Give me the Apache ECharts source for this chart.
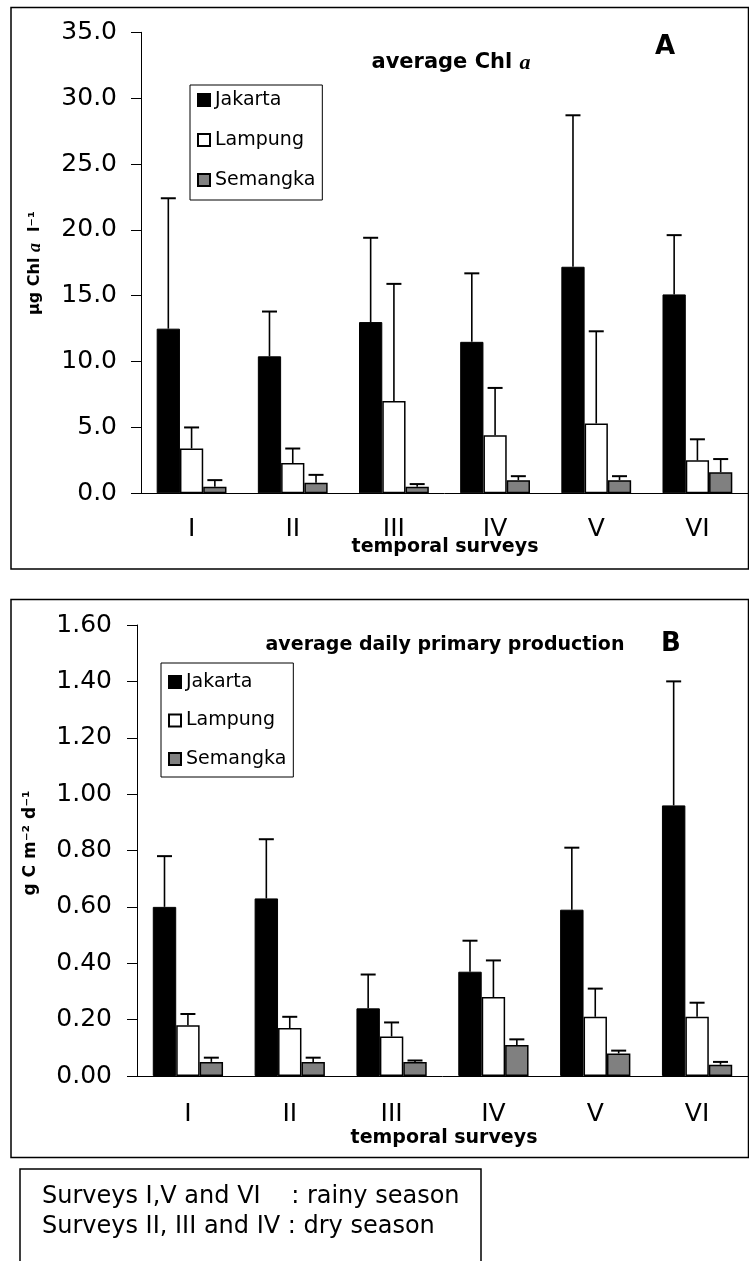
<!DOCTYPE html>
<html>
<head>
<meta charset="utf-8">
<script src="https://cdn.jsdelivr.net/npm/echarts@6/dist/echarts.min.js"></script>
<style>
	html,body{margin:0;padding:0;background:#fff;}
	#chart{width:749px;height:1261px;}
</style>
</head>
<body>
<div id="chart"></div>
<script>
'use strict'
// survey rounds
const surveys = ['I', 'II', 'III', 'IV', 'V', 'VI'];
const stations = ['Jakarta', 'Lampung', 'Semangka'];
// panel A: average Chl a (ug/l), mean and upper error (sd)
const chlJakarta = [12.5, 10.4, 13.0, 11.5, 17.2, 15.1];
const chlJakartaSd = [9.9, 3.4, 6.4, 5.2, 11.5, 4.5];
const chlLampung = [3.4, 2.3, 7.0, 4.4, 5.3, 2.5];
const chlLampungSd = [1.6, 1.1, 8.9, 3.6, 7.0, 1.6];
const chlSemangka = [0.5, 0.8, 0.5, 1.0, 1.0, 1.6];
const chlSemangkaSd = [0.5, 0.6, 0.2, 0.3, 0.3, 1.0];
// panel B: average daily primary production (g C m-2 d-1)
const ppJakarta = [0.60, 0.63, 0.24, 0.37, 0.59, 0.96];
const ppJakartaSd = [0.18, 0.21, 0.12, 0.11, 0.22, 0.44];
const ppLampung = [0.18, 0.17, 0.14, 0.28, 0.21, 0.21];
const ppLampungSd = [0.04, 0.04, 0.05, 0.13, 0.10, 0.05];
const ppSemangka = [0.05, 0.05, 0.05, 0.11, 0.08, 0.04];
const ppSemangkaSd = [0.015, 0.015, 0.005, 0.02, 0.01, 0.01];
// axis ticks
const chlTicks = {min: 0, max: 35, interval: 5};
const ppTicks = {min: 0, max: 1.6, interval: 0.2};

window.onload = ()=>{
	const FONT = 'DejaVu Sans';
	const GAP = 0.31;
	let chart = echarts.init(document.getElementById('chart'), null, {renderer: 'canvas'});

	let barStyle = [
		{color: '#000', borderColor: '#000', borderWidth: 1},
		{color: '#fff', borderColor: '#000', borderWidth: 1.5},
		{color: '#808080', borderColor: '#000', borderWidth: 1.5}
	];

	//error bars, only upper whisker
	function errRender(pos){
		return (params, api)=>{
			let xi = api.value(0);
			let base = api.coord([xi, api.value(1)]);
			let top = api.coord([xi, api.value(2)]);
			let band = api.size([1, 0])[0];
			let bw = band*(1-GAP)/3;
			let x = base[0] + (pos-1)*bw;
			let cap = 7.5;
			return {
				type: 'group',
				children: [{
					type: 'line',
					shape: {x1: x, y1: base[1], x2: x, y2: top[1]},
					style: {stroke: '#000', lineWidth: 1.6}
				},{
					type: 'line',
					shape: {x1: x-cap, y1: top[1], x2: x+cap, y2: top[1]},
					style: {stroke: '#000', lineWidth: 2}
				}]
			}
		}
	}

	function panelSeries(idx, means, sds){
		let out = [];
		means.forEach((m, k)=>{
			out.push({
				name: stations[k],
				type: 'bar',
				xAxisIndex: idx,
				yAxisIndex: idx,
				data: m,
				barGap: '0%',
				barCategoryGap: (GAP*100) + '%',
				itemStyle: barStyle[k],
				z: 2
			});
		});
		means.forEach((m, k)=>{
			out.push({
				type: 'custom',
				xAxisIndex: idx,
				yAxisIndex: idx,
				renderItem: errRender(k),
				encode: {x: 0, y: [1, 2]},
				data: m.map((v, i)=>[i, v, +(v + sds[k][i]).toFixed(3)]),
				z: 3
			});
		});
		return out;
	}

	function xAx(idx, margin){
		return {
			type: 'category',
			gridIndex: idx,
			data: surveys,
			axisLine: {lineStyle: {color: '#000', width: 1}},
			axisTick: {length: 8, lineStyle: {color: '#000'}},
			axisLabel: {margin: margin, fontSize: 25, color: '#000', fontFamily: FONT}
		}
	}
	function yAx(idx, t, dec, margin){
		return {
			type: 'value',
			gridIndex: idx,
			min: t.min,
			max: t.max,
			interval: t.interval,
			axisLine: {show: true, lineStyle: {color: '#000', width: 1}},
			axisTick: {show: true, length: 10, lineStyle: {color: '#000'}},
			splitLine: {show: false},
			axisLabel: {
				margin: margin,
				fontSize: 25,
				color: '#000',
				fontFamily: FONT,
				formatter: (v)=>v.toFixed(dec)
			}
		}
	}
	function legendBox(left, top, gap, pad){
		return {
			left: left,
			top: top,
			orient: 'vertical',
			data: stations,
			icon: 'rect',
			itemWidth: 12,
			itemHeight: 12,
			itemGap: gap,
			padding: pad,
			borderColor: '#000',
			borderWidth: 1,
			backgroundColor: '#fff',
			selectedMode: false,
			textStyle: {fontSize: 19, lineHeight: 20, color: '#000', fontFamily: FONT}
		}
	}
	function txt(x, y, text, size, weight, extra){
		return Object.assign({
			type: 'text',
			x: x,
			y: y,
			z: 10,
			style: {
				text: text,
				fontSize: size,
				fontWeight: weight,
				fontFamily: FONT,
				fill: '#000',
				align: 'center',
				verticalAlign: 'middle'
			}
		}, extra || {});
	}
	function note(y, text){
		return {
			type: 'text', x: 42, y: y, z: 10,
			style: {text: text, fontSize: 24, fontFamily: FONT, fill: '#000', align: 'left', verticalAlign: 'middle'}
		}
	}
	let italicA = {fontFamily: 'Liberation Serif', fontStyle: 'italic', fontWeight: 'bold', fontSize: 22, fill: '#000'};

	let option = {
		animation: false,
		backgroundColor: '#fff',
		grid: [
			{left: 141, right: 1, top: 32.3, height: 461},
			{left: 137, right: 1, top: 625, height: 451}
		],
		xAxis: [xAx(0, 24), xAx(1, 26)],
		yAxis: [yAx(0, chlTicks, 1, 24), yAx(1, ppTicks, 2, 25)],
		legend: [
			legendBox(190, 85, 20, [5, 7, 10, 7]),
			legendBox(161, 663, 18.5, [9, 7, 8, 7])
		],
		series: [].concat(
			panelSeries(0, [chlJakarta, chlLampung, chlSemangka], [chlJakartaSd, chlLampungSd, chlSemangkaSd]),
			panelSeries(1, [ppJakarta, ppLampung, ppSemangka], [ppJakartaSd, ppLampungSd, ppSemangkaSd])
		),
		graphic: [
			//frames
			{type: 'rect', shape: {x: 11, y: 7.5, width: 737.5, height: 561.5}, style: {fill: 'none', stroke: '#000', lineWidth: 1.5}, z: 0},
			{type: 'rect', shape: {x: 11, y: 599.5, width: 737.5, height: 558}, style: {fill: 'none', stroke: '#000', lineWidth: 1.5}, z: 0},
			{type: 'rect', shape: {x: 20, y: 1169, width: 461, height: 120}, style: {fill: 'none', stroke: '#000', lineWidth: 1.5}, z: 0},
			//panel A texts
			{
				type: 'text', x: 451, y: 63, z: 10,
				style: {
					text: '{b|average Chl }{i|a}',
					align: 'center', verticalAlign: 'middle',
					rich: {b: {fontFamily: FONT, fontWeight: 'bold', fontSize: 21, fill: '#000'}, i: italicA}
				}
			},
			txt(665, 47, 'A', 26, 'bold'),
			txt(445, 547, 'temporal surveys', 19, 'bold'),
			{
				type: 'text', x: 35, y: 263, rotation: Math.PI/2, z: 10,
				style: {
					text: '{b|µg Chl }{i|a}{b|  l⁻¹}',
					align: 'center', verticalAlign: 'middle',
					rich: {b: {fontFamily: FONT, fontWeight: 'bold', fontSize: 16, fill: '#000'}, i: Object.assign({}, italicA, {fontSize: 18})}
				}
			},
			//panel B texts
			txt(445, 645, 'average daily primary production', 19, 'bold'),
			txt(671, 644, 'B', 26, 'bold'),
			txt(444, 1138, 'temporal surveys', 19, 'bold'),
			txt(31, 843, 'g C m⁻² d⁻¹', 17, 'bold', {rotation: Math.PI/2}),
			//season notes
			note(1197, 'Surveys I,V and VI    : rainy season'),
			note(1227, 'Surveys II, III and IV : dry season')
		]
	};
	chart.setOption(option);
}
</script>
</body>
</html>
